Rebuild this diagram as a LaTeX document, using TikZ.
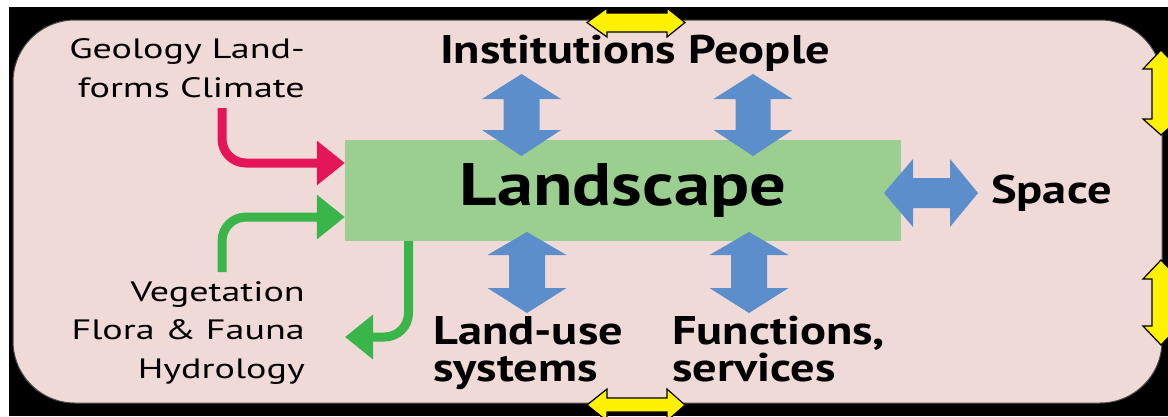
\documentclass[tikz,border=0pt]{standalone}
\usepackage{fontspec}
\setmainfont{PT Sans}
\newfontfamily\regwide{PT Sans}[FakeStretch=1.36]
\newfontfamily\boldwide{PT Sans}[FakeStretch=1.21]
\usetikzlibrary{arrows.meta}
\definecolor{pinkbg}{RGB}{240,218,216}
\definecolor{boxgreen}{RGB}{154,207,144}
\definecolor{arrgreen}{RGB}{58,181,74}
\definecolor{arrred}{RGB}{228,22,88}
\definecolor{arrblue}{RGB}{91,142,202}
\definecolor{arryellow}{RGB}{255,242,0}
\newcommand\hdarrowpath[7]{(#1,#5) -- (#2,#5-#6) -- (#2,#5-#7) -- (#3,#5-#7) -- (#3,#5-#6) -- (#4,#5) -- (#3,#5+#6) -- (#3,#5+#7) -- (#2,#5+#7) -- (#2,#5+#6) -- cycle}
\newcommand\vdarrowpath[7]{(#5,#1) -- (#5+#6,#2) -- (#5+#7,#2) -- (#5+#7,#3) -- (#5+#6,#3) -- (#5,#4) -- (#5-#6,#3) -- (#5-#7,#3) -- (#5-#7,#2) -- (#5-#6,#2) -- cycle}
\begin{document}
\begin{tikzpicture}[x=1pt,y=-1pt,
  plain/.style={inner sep=0pt, align=right, font=\regwide\fontsize{28}{38.5}\selectfont},
  boldlbl/.style={inner sep=0pt, align=left, font=\boldwide\bfseries\fontsize{40}{36.5}\selectfont},
  bigbold/.style={inner sep=0pt, font=\boldwide\bfseries\fontsize{40}{44}\selectfont},
  yarrow/.style={fill=arryellow, draw=black, line width=1.2pt, line join=miter},
  barrow/.style={fill=arrblue},
  flowline/.style={line width=9pt, rounded corners=24pt},
  flowtip/.style={-{Triangle[length=28pt,width=43pt]}}]
\useasboundingbox (0,0) rectangle (1168,416);
\fill[white] (0,0) rectangle (1168,416);
\fill[black] (9,7) rectangle (1168,416);
\filldraw[fill=pinkbg, draw=black!70, line width=1pt, rounded corners=62pt] (13,20) rectangle (1162,403);

% landscape box
\node[fill=boxgreen, minimum width=556pt, minimum height=101pt, inner sep=0pt,
      text height=29pt, text depth=0pt, font=\boldwide\bfseries\fontsize{60}{64}\selectfont]
      (land) at (623,190.5) {Landscape};

% labels (base anchor = last line of a multi-line node)
\node[plain, anchor=base east] (geo) at (305,97) {Geology Land-\\forms Climate};
\node[plain, anchor=base east] (veg) at (305,378) {Vegetation\\Flora \& Fauna\\Hydrology};
\node[bigbold, anchor=base west] (inst) at (440,63) {Institutions People};
\node[bigbold, anchor=base west] (space) at (991,203) {Space};
\node[boldlbl, anchor=base west] (landuse) at (433,381) {Land-use\\systems};
\node[boldlbl, anchor=base west] (func) at (672,381) {Functions,\\services};

% coordinates for free ends
\coordinate (redstart) at (222,108);
\coordinate (redy) at (0,163);
\coordinate (greenstart) at (222,272);
\coordinate (greeny) at (0,217);
\coordinate (outx) at (408.5,0);
\coordinate (outend) at (345,337);

% flow arrows
\draw[flowline, flowtip, draw=arrred, arrred] (redstart) |- (land.west |- redy);
\draw[flowline, flowtip, draw=arrgreen, arrgreen] (greenstart) |- (land.west |- greeny);
\draw[flowline, flowtip, draw=arrgreen, arrgreen] (land.south -| outx) |- (outend);

% blue double arrows
\fill[barrow] \vdarrowpath{74}{99}{130}{156}{521.5}{39.5}{18};
\fill[barrow] \vdarrowpath{74}{99}{130}{156}{753}{39.5}{17.5};
\fill[barrow] \vdarrowpath{232}{255}{288}{313}{527}{39.5}{18};
\fill[barrow] \vdarrowpath{232}{255}{288}{313}{749}{39.5}{18};
\fill[barrow] \hdarrowpath{884}{913}{950}{978}{193}{34}{15};

% yellow double arrows on the frame
\draw[yarrow] \hdarrowpath{587}{607}{667}{685}{22.5}{14.5}{9.5};
\draw[yarrow] \hdarrowpath{587}{607}{667}{685}{405}{16}{7};
\draw[yarrow] \vdarrowpath{50}{69}{119}{135}{1161}{18}{9};
\draw[yarrow] \vdarrowpath{260}{279}{326}{345}{1161}{18}{9};
\end{tikzpicture}
\end{document}
